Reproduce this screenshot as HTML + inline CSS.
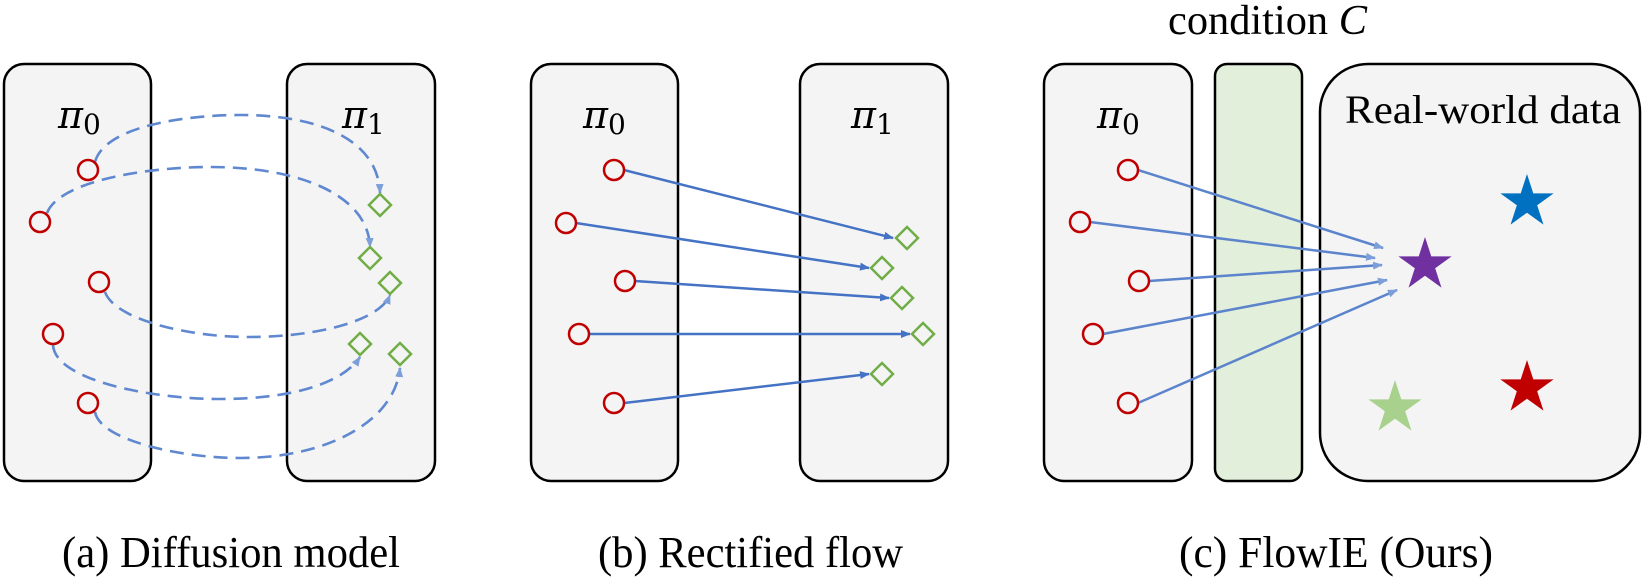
<!DOCTYPE html>
<html><head><meta charset="utf-8"><style>
html,body{margin:0;padding:0;background:#fff;}
svg{display:block;}
</style></head><body>
<svg width="1643" height="578" viewBox="0 0 1643 578" xmlns="http://www.w3.org/2000/svg">
<defs>
<marker id="ah" markerWidth="10" markerHeight="8" refX="9" refY="4" orient="auto" markerUnits="userSpaceOnUse">
<path d="M0,0 L10,4 L0,8 z" fill="#4472c4"/></marker>
<marker id="ahl" markerWidth="10" markerHeight="8" refX="9" refY="4" orient="auto" markerUnits="userSpaceOnUse">
<path d="M0,0 L10,4 L0,8 z" fill="#7c9fd9"/></marker>
</defs>
<g stroke="#000" stroke-width="2.5" fill="#f4f4f4">
<rect x="4" y="64" width="147" height="417" rx="20"/>
<rect x="287" y="64" width="148" height="417" rx="20"/>
<rect x="531" y="64" width="147" height="417" rx="20"/>
<rect x="800" y="64" width="148" height="417" rx="20"/>
<rect x="1044" y="64" width="148" height="417" rx="20"/>
<rect x="1215" y="64" width="87" height="417" rx="12" fill="#e2efda"/>
<rect x="1320" y="64" width="320" height="417" rx="48"/>
</g>
<g font-family="'DejaVu Serif','Liberation Serif',serif" font-style="italic" font-size="38" fill="#000">
<text x="58" y="128">π<tspan font-style="normal" font-size="28" dy="6">0</tspan></text>
<text x="342" y="128">π<tspan font-style="normal" font-size="28" dy="6">1</tspan></text>
<text x="583" y="128">π<tspan font-style="normal" font-size="28" dy="6">0</tspan></text>
<text x="851" y="128">π<tspan font-style="normal" font-size="28" dy="6">1</tspan></text>
<text x="1097" y="128">π<tspan font-style="normal" font-size="28" dy="6">0</tspan></text>
</g>
<g font-family="'Liberation Serif',serif" fill="#000">
<text x="1168" y="34" font-size="42" textLength="199" lengthAdjust="spacingAndGlyphs">condition <tspan font-style="italic">C</tspan></text>
<text x="1345" y="123" font-size="40" textLength="276" lengthAdjust="spacingAndGlyphs">Real-world data</text>
<text x="62" y="567" font-size="44" textLength="338" lengthAdjust="spacingAndGlyphs">(a) Diffusion model</text>
<text x="598" y="567" font-size="44" textLength="305" lengthAdjust="spacingAndGlyphs">(b) Rectified flow</text>
<text x="1179" y="567" font-size="44" textLength="314" lengthAdjust="spacingAndGlyphs">(c) FlowIE (Ours)</text>
</g>
<g fill="none" stroke="#5f88d0" stroke-width="2.6" stroke-dasharray="14,8" marker-end="url(#ahl)">
<path d="M95,162 C105,125 190,115 240,115 C320,115 378,140 380,193"/>
<path d="M47,213 C60,180 150,167 210,167 C300,167 368,195 370,247"/>
<path d="M105,292 C115,320 190,337 248,337 C320,337 380,320 390,295"/>
<path d="M53,345 C55,380 150,399 220,399 C300,399 345,380 360,357"/>
<path d="M95,412 C100,440 180,458 240,458 C330,458 395,420 400,368"/>
</g>
<g stroke="#4472c4" stroke-width="2.5" marker-end="url(#ah)">
<line x1="624" y1="170" x2="893" y2="238"/>
<line x1="576" y1="223" x2="869" y2="268"/>
<line x1="635" y1="281" x2="889" y2="298"/>
<line x1="589" y1="334" x2="910" y2="334"/>
<line x1="624" y1="403" x2="869" y2="374"/>
</g>
<g stroke="#5b84cc" stroke-width="2.5" marker-end="url(#ahl)">
<line x1="1138" y1="170" x2="1383" y2="248"/>
<line x1="1090" y1="222" x2="1375" y2="258"/>
<line x1="1149" y1="281" x2="1382" y2="265"/>
<line x1="1103" y1="334" x2="1387" y2="280"/>
<line x1="1138" y1="403" x2="1397" y2="290"/>
</g>
<g fill="none" stroke="#c00000" stroke-width="2.5">
<circle cx="88" cy="170" r="10"/><circle cx="40" cy="222" r="10"/><circle cx="99" cy="282" r="10"/><circle cx="53" cy="334" r="10"/><circle cx="88" cy="403" r="10"/>
<circle cx="614" cy="170" r="10"/><circle cx="566" cy="223" r="10"/><circle cx="625" cy="281" r="10"/><circle cx="579" cy="334" r="10"/><circle cx="614" cy="403" r="10"/>
<circle cx="1128" cy="170" r="10"/><circle cx="1080" cy="222" r="10"/><circle cx="1139" cy="281" r="10"/><circle cx="1093" cy="334" r="10"/><circle cx="1128" cy="403" r="10"/>
</g>
<g fill="none" stroke="#70ad47" stroke-width="2.5">
<path d="M380,194 l11,11 l-11,11 l-11,-11 z"/>
<path d="M370,247 l11,11 l-11,11 l-11,-11 z"/>
<path d="M390,272 l11,11 l-11,11 l-11,-11 z"/>
<path d="M360,333 l11,11 l-11,11 l-11,-11 z"/>
<path d="M400,343 l11,11 l-11,11 l-11,-11 z"/>
<path d="M907,227 l11,11 l-11,11 l-11,-11 z"/>
<path d="M882,257 l11,11 l-11,11 l-11,-11 z"/>
<path d="M902,287 l11,11 l-11,11 l-11,-11 z"/>
<path d="M923,323 l11,11 l-11,11 l-11,-11 z"/>
<path d="M882,363 l11,11 l-11,11 l-11,-11 z"/>
</g>
<g>
<path transform="translate(1527,202) scale(28)" fill="#0070c0" d="M0,-1 L0.2245,-0.309 L0.951,-0.309 L0.363,0.118 L0.588,0.809 L0,0.382 L-0.588,0.809 L-0.363,0.118 L-0.951,-0.309 L-0.2245,-0.309 Z"/>
<path transform="translate(1425,265) scale(28)" fill="#7030a0" d="M0,-1 L0.2245,-0.309 L0.951,-0.309 L0.363,0.118 L0.588,0.809 L0,0.382 L-0.588,0.809 L-0.363,0.118 L-0.951,-0.309 L-0.2245,-0.309 Z"/>
<path transform="translate(1395,408) scale(28)" fill="#a9d18e" d="M0,-1 L0.2245,-0.309 L0.951,-0.309 L0.363,0.118 L0.588,0.809 L0,0.382 L-0.588,0.809 L-0.363,0.118 L-0.951,-0.309 L-0.2245,-0.309 Z"/>
<path transform="translate(1527,388) scale(28)" fill="#c00000" d="M0,-1 L0.2245,-0.309 L0.951,-0.309 L0.363,0.118 L0.588,0.809 L0,0.382 L-0.588,0.809 L-0.363,0.118 L-0.951,-0.309 L-0.2245,-0.309 Z"/>
</g>
</svg>
</body></html>
